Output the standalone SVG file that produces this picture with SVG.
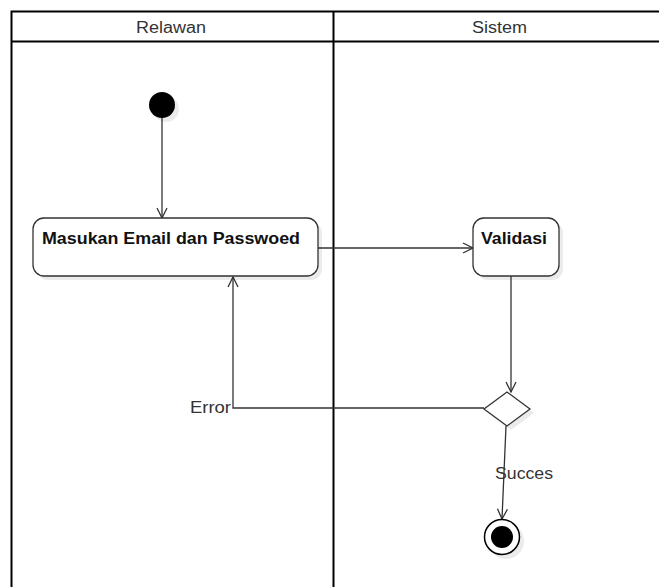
<svg xmlns="http://www.w3.org/2000/svg" width="659" height="587" viewBox="0 0 659 587">
  <style>
    .lane { fill: none; stroke: #000; stroke-width: 2; }
    .hdr { font-family: "Liberation Sans", Arial, sans-serif; font-size: 16px; fill: #333; }
    .act { fill: #fff; stroke: #333; stroke-width: 1.3; }
    .shadow { fill: #000; opacity: 0.08; }
    .albl { font-family: "Liberation Sans", Arial, sans-serif; font-size: 16px; font-weight: bold; fill: #111; }
    .edge { fill: none; stroke: #333; stroke-width: 1.3; }
    .elbl { font-family: "Liberation Sans", Arial, sans-serif; font-size: 16px; fill: #333; }
  </style>
  <defs>
    <marker id="open" viewBox="0 0 12 12" refX="11" refY="6" markerWidth="12" markerHeight="12" markerUnits="userSpaceOnUse" orient="auto">
      <path d="M1,1 L11,6 L1,11" fill="none" stroke="#333" stroke-width="1.3"/>
    </marker>
  </defs>
  <rect width="659" height="587" fill="#fff"/>

  <!-- swimlane pool -->
  <g id="pool">
    <path class="lane" d="M11.5,600 V11.5 H670 M11.5,41.5 H670 M333.5,11.5 V600"/>
    <text class="hdr" x="136" y="33" textLength="70" lengthAdjust="spacingAndGlyphs">Relawan</text>
    <text class="hdr" x="472" y="33" textLength="55" lengthAdjust="spacingAndGlyphs">Sistem</text>
  </g>

  <!-- connectors -->
  <g id="edges">
    <path class="edge" d="M162,117 V218" marker-end="url(#open)"/>
    <path class="edge" d="M318,248 H473" marker-end="url(#open)"/>
    <path class="edge" d="M511,276 V392" marker-end="url(#open)"/>
    <path class="edge" d="M484,408 H233 V277" marker-end="url(#open)"/>
    <path class="edge" d="M506,426 L502,519" marker-end="url(#open)"/>
    <text class="elbl" x="190" y="413" textLength="41" lengthAdjust="spacingAndGlyphs">Error</text>
    <text class="elbl" x="495" y="479" textLength="58" lengthAdjust="spacingAndGlyphs">Succes</text>
  </g>

  <!-- start node -->
  <g id="start">
    <circle class="shadow" cx="166" cy="109" r="13"/>
    <circle cx="162" cy="105" r="13" fill="#000"/>
  </g>

  <!-- action: enter email and password -->
  <g id="input">
    <rect class="shadow" x="37" y="222" width="285" height="58" rx="11"/>
    <rect class="act" x="33" y="218" width="285" height="58" rx="11"/>
    <text class="albl" x="42" y="244" textLength="258" lengthAdjust="spacingAndGlyphs">Masukan Email dan Passwoed</text>
  </g>

  <!-- action: validation -->
  <g id="validasi">
    <rect class="shadow" x="477" y="222" width="86" height="58" rx="11"/>
    <rect class="act" x="473" y="218" width="86" height="58" rx="11"/>
    <text class="albl" x="481" y="244" textLength="66" lengthAdjust="spacingAndGlyphs">Validasi</text>
  </g>

  <!-- decision -->
  <g id="decision">
    <path class="shadow" d="M511,396 L534,413 L511,430 L488,413 Z"/>
    <path class="act" d="M507,392 L530,409 L507,426 L484,409 Z"/>
  </g>

  <!-- end node -->
  <g id="end">
    <circle class="shadow" cx="506" cy="541" r="18"/>
    <circle cx="502" cy="537" r="17.5" fill="#fff" stroke="#000" stroke-width="1.5"/>
    <circle cx="502" cy="537" r="11" fill="#000"/>
  </g>
</svg>
